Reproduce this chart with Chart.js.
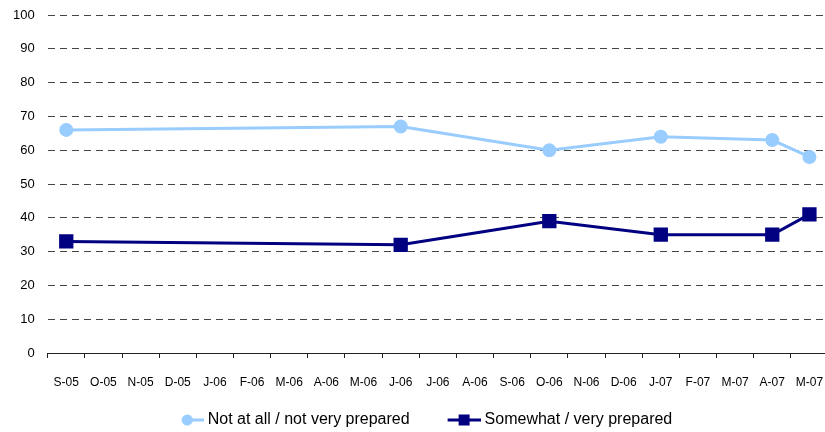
<!DOCTYPE html>
<html>
<head>
<meta charset="utf-8">
<script src="https://cdn.jsdelivr.net/npm/chart.js@4"></script>
<style>
  html, body { margin: 0; padding: 0; background: #fff; overflow: hidden; }
  /* canvas is a little wider than the window: the plot runs past the right edge
     and the legend sits slightly left of centre */
  #wrap { width: 847px; height: 432px; margin-left: -19px; }
</style>
</head>
<body>
<div id="wrap"><canvas id="prepChart"></canvas></div>
<script>
// Survey months, Sept 2005 to May 2007
const months = ['S-05', 'O-05', 'N-05', 'D-05', 'J-06', 'F-06', 'M-06', 'A-06', 'M-06', 'J-06', 'J-06',
                'A-06', 'S-06', 'O-06', 'N-06', 'D-06', 'J-07', 'F-07', 'M-07', 'A-07', 'M-07'];

// null where no survey was taken that month
const notPrepared = [66, null, null, null, null, null, null, null, null, 67, null,
                     null, null, 60, null, null, 64, null, null, 63, 58];
const prepared = [33, null, null, null, null, null, null, null, null, 32, null,
                  null, null, 39, null, null, 35, null, null, 35, 41];

const LIGHT = '#99ccff';
const DARK = '#000080';
const FONT = "'Liberation Sans', Arial, sans-serif";

// legend icon: line with a marker, drawn from x = from to the right edge
function legendIcon(color, shape, from) {
    const w = 52;
    const c = document.createElement('canvas');
    c.width = w;
    c.height = 14;
    const ctx = c.getContext('2d');
    ctx.strokeStyle = color;
    ctx.fillStyle = color;
    ctx.lineWidth = 3;
    ctx.beginPath();
    ctx.moveTo(from, 7);
    ctx.lineTo(w, 7);
    ctx.stroke();
    if (shape === 'circle') {
        ctx.beginPath();
        ctx.arc(from + 5.5, 7, 5.5, 0, Math.PI * 2);
        ctx.fill();
    } else {
        ctx.fillRect(from + (w - from) / 2 - 5.5, 1.5, 11, 11);
    }
    return c;
}

const lightIcon = legendIcon(LIGHT, 'circle', 30);
const darkIcon = legendIcon(DARK, 'rect', 19);

Chart.defaults.font.family = FONT;
Chart.defaults.color = '#000';

new Chart(document.getElementById('prepChart'), {
    type: 'line',
    data: {
        labels: months,
        datasets: [{
            label: 'Not at all / not very prepared',
            data: notPrepared,
            borderColor: LIGHT,
            backgroundColor: LIGHT,
            borderWidth: 3,
            pointStyle: 'circle',
            pointRadius: 5.5,
            pointHoverRadius: 5.5,
            spanGaps: true,
            tension: 0
        }, {
            label: 'Somewhat / very prepared',
            data: prepared,
            borderColor: DARK,
            backgroundColor: DARK,
            borderWidth: 3,
            pointStyle: 'rect',
            pointRadius: 8,
            pointHoverRadius: 8,
            spanGaps: true,
            tension: 0
        }]
    },
    options: {
        responsive: true,
        maintainAspectRatio: false,
        animation: false,
        layout: { autoPadding: false, padding: { top: 15, right: 0, left: 19, bottom: -6 } },
        plugins: {
            tooltip: { enabled: false },
            legend: {
                position: 'bottom',
                labels: {
                    usePointStyle: true,
                    pointStyleWidth: 44,
                    font: { size: 16, family: FONT },
                    color: '#000',
                    padding: 23,
                    generateLabels(chart) {
                        return chart.data.datasets.map((ds, i) => ({
                            text: ds.label,
                            datasetIndex: i,
                            pointStyle: i === 0 ? lightIcon : darkIcon,
                            fillStyle: ds.borderColor,
                            strokeStyle: ds.borderColor,
                            lineWidth: 0,
                            hidden: false
                        }));
                    }
                }
            }
        },
        scales: {
            x: {
                offset: true,
                grid: {
                    offset: true,
                    drawOnChartArea: false,
                    drawTicks: true,
                    tickLength: 5,
                    color: '#222'
                },
                border: { display: true, color: '#222', width: 1 },
                ticks: {
                    autoSkip: false,
                    maxRotation: 0,
                    padding: 17,
                    font: { size: 12, family: FONT },
                    color: '#000'
                },
                // tick padding is counted twice by fit(); size the box to the labels only
                afterFit(scale) {
                    scale.paddingLeft = 0;
                    scale.paddingRight = 0;
                    scale.height = 36;
                }
            },
            y: {
                min: 0,
                max: 100,
                ticks: {
                    stepSize: 10,
                    padding: 13,
                    font: { size: 13, family: FONT },
                    color: '#000'
                },
                border: { display: false, dash: [7, 5] },
                grid: {
                    drawTicks: false,
                    color: ctx => ctx.tick.value === 0 ? 'rgba(0,0,0,0)' : '#444',
                    lineWidth: 1
                },
                afterFit(scale) {
                    scale.paddingTop = 0;
                    scale.paddingBottom = 0;
                }
            }
        }
    }
});
</script>
</body>
</html>
